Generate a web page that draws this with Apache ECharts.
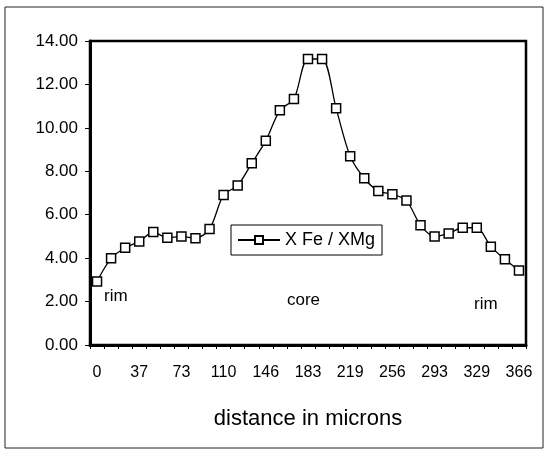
<!DOCTYPE html>
<html>
<head>
<meta charset="utf-8">
<script src="https://cdn.jsdelivr.net/npm/echarts@6/dist/echarts.min.js"></script>
<style>
html,body{margin:0;padding:0;background:#fff;}
#c{width:547px;height:454px;}
</style>
</head>
<body>
<div id="c"></div>
<script>
var distances = ['0','12','24','37','49','61','73','85','98','110','122','134','146','159','171','183','195','207','219','232','244','256','268','281','293','305','317','329','342','354','366'];
var xfeXmg = [2.93,3.99,4.48,4.77,5.20,4.94,5.00,4.92,5.34,6.91,7.35,8.37,9.41,10.81,11.33,13.17,13.17,10.90,8.69,7.68,7.09,6.94,6.65,5.52,5.00,5.14,5.40,5.40,4.53,3.95,3.43];
var seriesName = 'X Fe / XMg';
var axisTitle = 'distance in microns';

var font = '"Liberation Sans", Arial, sans-serif';
var chart = echarts.init(document.getElementById('c'), null, {renderer:'canvas'});
chart.setOption({
  animation:false,
  backgroundColor:'#fff',
  grid:{left:90, right:21, top:41, bottom:109, show:true, borderColor:'#000', borderWidth:2.5, backgroundColor:'transparent'},
  legend:{
    left:231, top:225, orient:'horizontal',
    padding:[6,7,6,6],
    borderColor:'#000', borderWidth:1,
    itemWidth:42, itemHeight:10, itemGap:4,
    textStyle:{fontFamily:font, fontSize:18, color:'#000'},
    data:[seriesName]
  },
  xAxis:{
    type:'category', data:distances, boundaryGap:true,
    axisLine:{lineStyle:{color:'#000', width:3}},
    axisTick:{show:true, interval:0, length:4, inside:false, lineStyle:{color:'#000', width:1}},
    axisLabel:{interval:2, margin:20, fontFamily:font, fontSize:16, color:'#000'},
    splitLine:{show:false},
    name:axisTitle, nameLocation:'middle', nameGap:63,
    nameTextStyle:{fontFamily:font, fontSize:22, color:'#000'}
  },
  yAxis:{
    type:'value', min:0, max:14, interval:2,
    axisLine:{show:true, lineStyle:{color:'#000', width:3}},
    axisTick:{show:true, length:5, lineStyle:{color:'#000', width:1}},
    axisLabel:{margin:12, fontFamily:font, fontSize:17, color:'#000', formatter:function(v){return v.toFixed(2);}},
    splitLine:{show:false}
  },
  series:[{
    name:seriesName, type:'line', data:xfeXmg,
    smooth:0.3,
    symbol:'rect', symbolSize:9, showSymbol:true,
    lineStyle:{color:'#000', width:1.3},
    itemStyle:{color:'#fff', borderColor:'#000', borderWidth:1.5}
  }],
  graphic:[
    {type:'rect', shape:{x:5, y:7, width:538, height:441}, style:{fill:'none', stroke:'#222', lineWidth:1}, z:-1},
    {type:'text', left:104, top:288, style:{text:'rim', font:'17px '+font, fill:'#000'}},
    {type:'text', left:287, top:292, style:{text:'core', font:'17px '+font, fill:'#000'}},
    {type:'text', left:474, top:296, style:{text:'rim', font:'17px '+font, fill:'#000'}}
  ]
});
</script>
</body>
</html>
